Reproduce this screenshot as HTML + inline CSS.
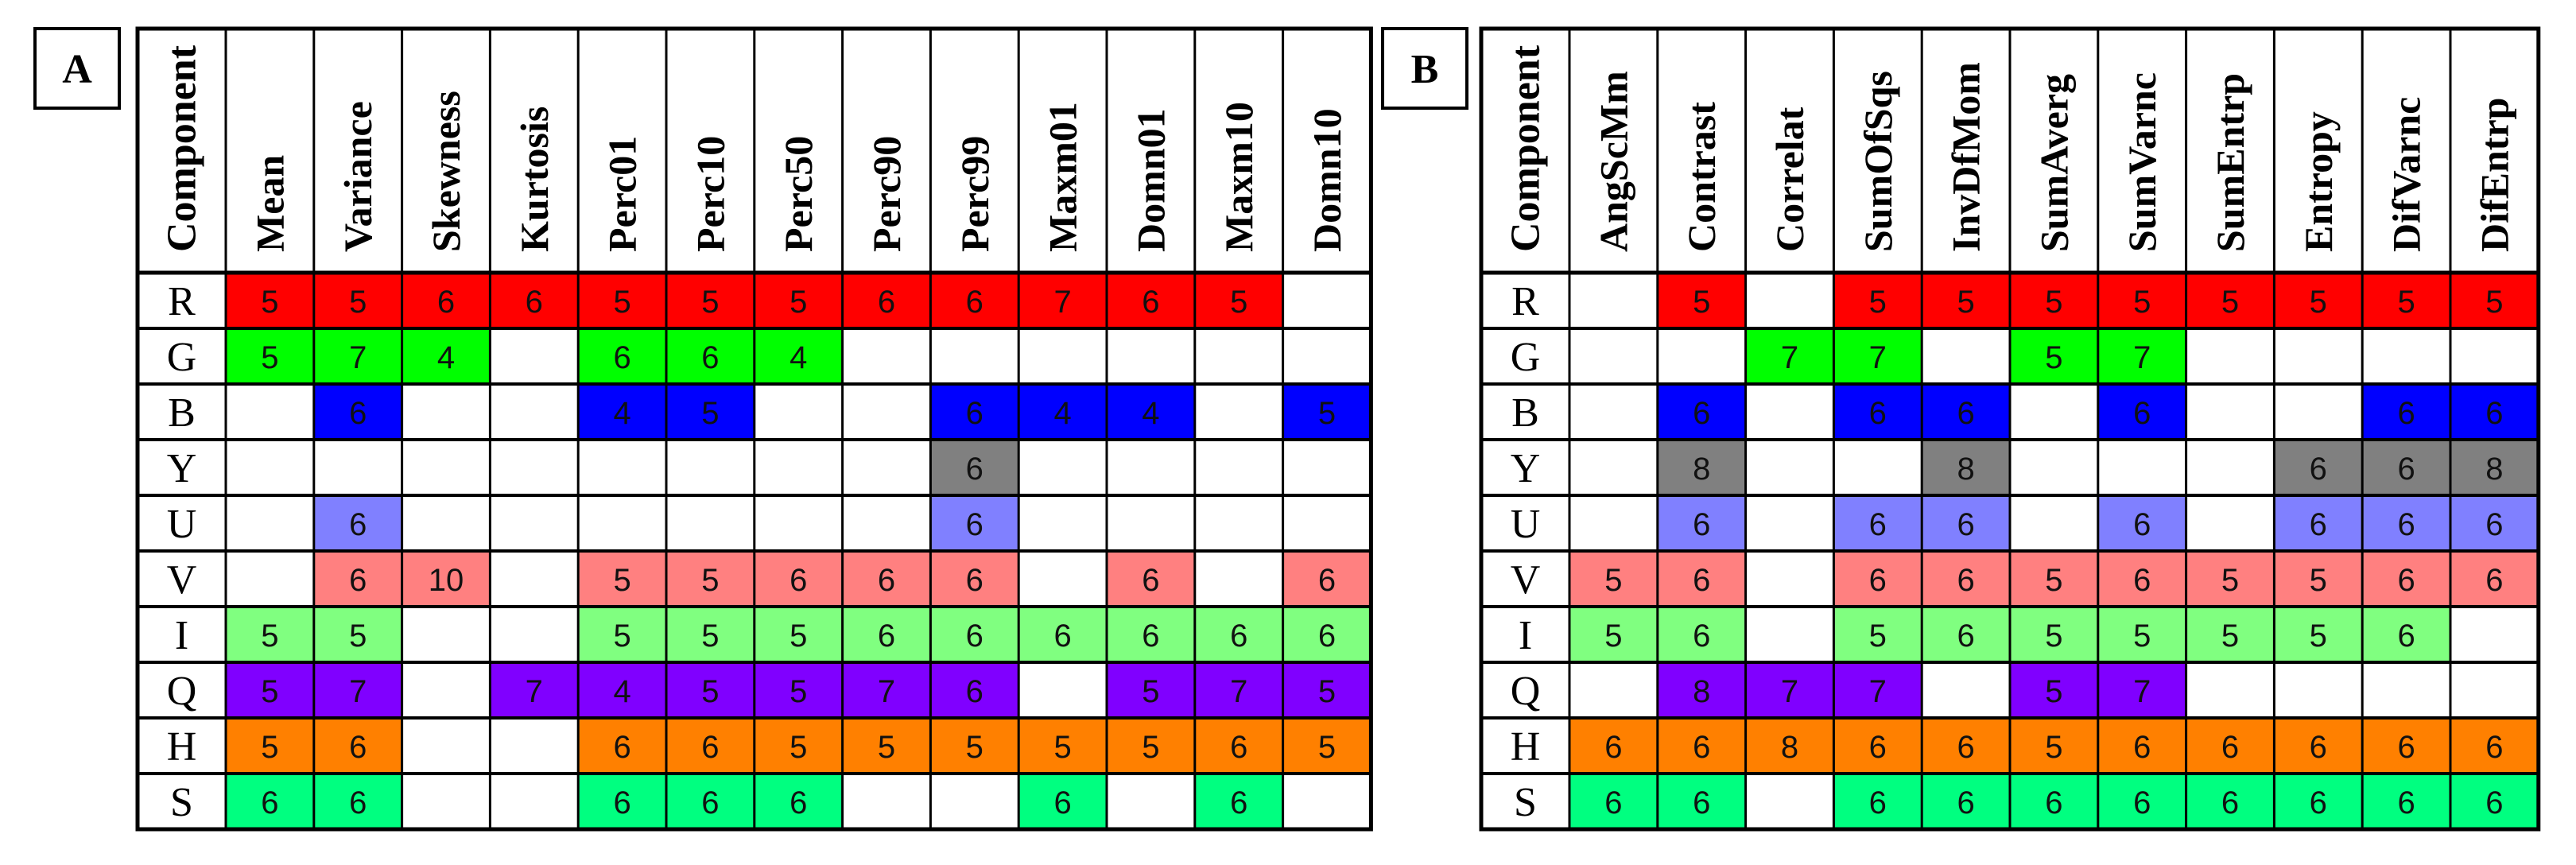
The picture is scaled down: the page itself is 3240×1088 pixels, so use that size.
<!DOCTYPE html>
<html><head><meta charset="utf-8"><style>
html,body{margin:0;padding:0;background:#fff;width:3240px;height:1088px;overflow:hidden}
svg{display:block}
</style></head><body>
<svg id="chart" width="3240" height="1088" xmlns="http://www.w3.org/2000/svg"></svg>
<script>
const rowLabels = ["R","G","B","Y","U","V","I","Q","H","S"];
const rowColors = ["#ff0000","#00ff00","#0000ff","#808080","#8080ff","#ff8080","#80ff80","#8000ff","#ff8000","#00ff80"];
const colsA = ["Mean","Variance","Skewness","Kurtosis","Perc01","Perc10","Perc50","Perc90","Perc99","Maxm01","Domn01","Maxm10","Domn10"];
const valuesA = [
 [5,5,6,6,5,5,5,6,6,7,6,5,null],
 [5,7,4,null,6,6,4,null,null,null,null,null,null],
 [null,6,null,null,4,5,null,null,6,4,4,null,5],
 [null,null,null,null,null,null,null,null,6,null,null,null,null],
 [null,6,null,null,null,null,null,null,6,null,null,null,null],
 [null,6,10,null,5,5,6,6,6,null,6,null,6],
 [5,5,null,null,5,5,5,6,6,6,6,6,6],
 [5,7,null,7,4,5,5,7,6,null,5,7,5],
 [5,6,null,null,6,6,5,5,5,5,5,6,5],
 [6,6,null,null,6,6,6,null,null,6,null,6,null]
];
const colsB = ["AngScMm","Contrast","Correlat","SumOfSqs","InvDfMom","SumAverg","SumVarnc","SumEntrp","Entropy","DifVarnc","DifEntrp"];
const valuesB = [
 [null,5,null,5,5,5,5,5,5,5,5],
 [null,null,7,7,null,5,7,null,null,null,null],
 [null,6,null,6,6,null,6,null,null,6,6],
 [null,8,null,null,8,null,null,null,6,6,8],
 [null,6,null,6,6,null,6,null,6,6,6],
 [5,6,null,6,6,5,6,5,5,6,6],
 [5,6,null,5,6,5,5,5,5,6,null],
 [null,8,7,7,null,5,7,null,null,null,null],
 [6,6,8,6,6,5,6,6,6,6,6],
 [6,6,null,6,6,6,6,6,6,6,6]
];
const NS="http://www.w3.org/2000/svg";
const svg=document.getElementById('chart');
function mk(tag,attrs,parent){const e=document.createElementNS(NS,tag);for(const k in attrs)e.setAttribute(k,attrs[k]);(parent||svg).appendChild(e);return e;}

function drawTable(name,label,box,x0,cols,vals){
  const g=mk('g',{});
  
  
  const top=36, headH=307, rowH=70, compW=111, colW=110.8;
  const totalW=compW+colW*cols.length, totalH=headH+rowH*rowLabels.length;
  const lb=mk('g',{},g);
  
  
  mk('rect',{x:box,y:36,width:106,height:100,fill:'#fff',stroke:'#000','stroke-width':4},lb);
  const lt=mk('text',{x:box+53,y:104,'text-anchor':'middle','font-family':'"Liberation Serif",serif','font-weight':'bold','font-size':52},lb);
  lt.textContent=label;
  const cx=i=>x0+compW+colW*i;
  const ry=r=>top+headH+rowH*r;
  vals.forEach((row,r)=>{
    row.forEach((v,c)=>{
      const cell=mk('g',{},g);
      
      
      if(v!==null){
        mk('rect',{x:cx(c),y:ry(r),width:colW,height:rowH,fill:rowColors[r]},cell);
        const t=mk('text',{x:cx(c)+colW/2,y:ry(r)+rowH/2+15,'text-anchor':'middle','font-family':'"Liberation Sans",sans-serif','font-size':40,fill:'#111'},cell);
        t.textContent=v;
      }
    });
    const rl=mk('text',{x:x0+compW/2,y:ry(r)+rowH/2+18,'text-anchor':'middle','font-family':'"Liberation Serif",serif','font-size':52},g);
    
    
    rl.textContent=rowLabels[r];
  });
  const headers=["Component"].concat(cols);
  headers.forEach((h,i)=>{
    const xc = i===0 ? x0+compW/2 : cx(i-1)+colW/2;
    const t=mk('text',{x:0,y:0,transform:`translate(${xc+17},${top+headH-26}) rotate(-90)`,'font-family':'"Liberation Serif",serif','font-weight':'bold','font-size':i===0?52:50},g);
    
    
    t.textContent=h;
  });
  for(let i=0;i<=cols.length;i++){
    const x = i===0 ? x0+compW : cx(i);
    mk('line',{x1:x,y1:top,x2:x,y2:top+totalH,stroke:'#000','stroke-width':3},g);
  }
  for(let r=0;r<=rowLabels.length;r++){
    mk('line',{x1:x0,y1:ry(r),x2:x0+totalW,y2:ry(r),stroke:'#000','stroke-width':r===0?5:4},g);
  }
  mk('rect',{x:x0,y:top,width:totalW,height:totalH,fill:'none',stroke:'#000','stroke-width':5},g);
}
drawTable('table-a','A',44,173,colsA,valuesA);
drawTable('table-b','B',1739,1863,colsB,valuesB);
</script>
</body></html>
